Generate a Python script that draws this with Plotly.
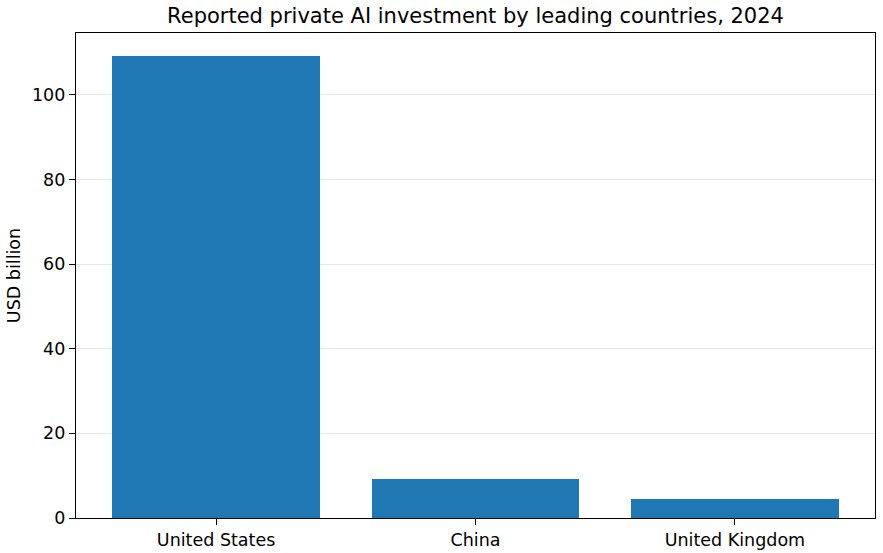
import plotly.graph_objects as go

countries = ["United States", "China", "United Kingdom"]
investment = [109.1, 9.3, 4.5]
y_ticks = [0, 20, 40, 60, 80, 100]

fig = go.Figure(go.Bar(
    x=list(range(len(countries))), y=investment, width=0.8,
    marker=dict(color="#1f77b4", line=dict(width=0)),
))
fig.update_layout(
    width=883, height=553,
    margin=dict(l=76, r=8, t=33, b=35),
    plot_bgcolor="white", paper_bgcolor="white",
    font=dict(family="DejaVu Sans", size=17.5, color="black"),
    title=dict(text="Reported private AI investment by leading countries, 2024",
               x=475.5/883, xanchor="center", y=1 - 16/553, yanchor="middle",
               font=dict(size=21)),
    showlegend=False,
    bargap=0,
)
fig.update_xaxes(
    range=[-0.54, 2.54], tickmode="array", tickvals=list(range(len(countries))),
    ticktext=countries, ticks="outside", ticklen=6, tickcolor="black",
    showline=True, linecolor="black", linewidth=1.2, mirror=True,
    showgrid=False, zeroline=False, automargin=False,
)
fig.update_yaxes(
    range=[0, 114.6], tickmode="array", tickvals=y_ticks,
    ticks="outside", ticklen=6, tickcolor="black",
    showline=True, linecolor="black", linewidth=1.2, mirror=True,
    showgrid=True, gridcolor="#e5e5e5", gridwidth=1, zeroline=False,
    automargin=False,
    title=dict(text="USD billion", font=dict(size=17.5), standoff=6),
)
fig.write_html("out.html")
